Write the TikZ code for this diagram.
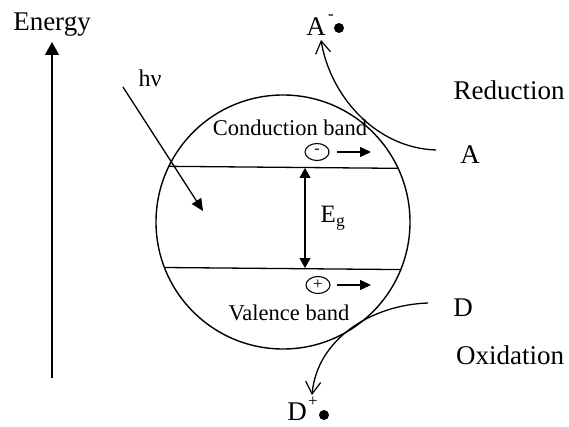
\documentclass[tikz,border=0pt]{standalone}
\usepackage{fontspec}
\setmainfont{Liberation Serif}
\usetikzlibrary{arrows.meta,shapes.geometric}
\begin{document}
\begin{tikzpicture}[x=1pt,y=-1pt, line width=1.3pt,
  big/.style={font=\fontsize{27}{30}\selectfont, inner sep=0pt},
  mid/.style={font=\fontsize{22.5}{26}\selectfont, inner sep=0pt},
  sup/.style={font=\fontsize{17}{17}\selectfont, inner sep=0pt},
  tri/.style={-{Triangle[length=11pt,width=10pt]}},
  tritwo/.style={{Triangle[length=10pt,width=11pt]}-{Triangle[length=10pt,width=11pt]}},
  barb/.style={-{Straight Barb[length=12pt,width=15pt,line width=1.2pt]}},
  carrier/.style={draw, ellipse, minimum width=24pt, minimum height=17pt, inner sep=0pt, line width=1.1pt},
  dotmark/.style={circle, fill, inner sep=0pt, minimum size=10pt}]
\useasboundingbox (0,0) rectangle (569,427);

% particle
\node[draw, circle, minimum size=254pt, inner sep=0pt, outer sep=0pt, line width=1.4pt] (p) at (283,222) {};
\draw (p.154.8) -- (p.25.2);
\draw (p.201.2) -- (p.338.8);

% band gap
\coordinate (eT) at (305,168);
\coordinate (eB) at (305,268);
\draw[tritwo] (eT) -- (eB);
\node[font=\fontsize{25}{28}\selectfont, inner sep=0pt] (eg) at (333,218) {E\textsubscript{g}};

% band labels
\node[mid] (cb) at (290,128) {Conduction band};
\node[mid] (vb) at (289,313) {Valence band};

% electron and hole
\node[carrier] (el) at (317,152) {\raisebox{2pt}{\fontsize{16}{16}\selectfont -}};
\coordinate (elA) at (337,152);
\coordinate (elB) at (371,152);
\draw[tri] (elA) -- (elB);
\node[carrier] (ho) at (318,285) {\fontsize{17}{17}\selectfont +};
\coordinate (hoA) at (337,285);
\coordinate (hoB) at (371,285);
\draw[tri] (hoA) -- (hoB);

% energy axis
\node[big] (en) at (52,25) {Energy};
\coordinate (enB) at (52,378);
\coordinate (enT) at (52,42);
\draw[-{Triangle[length=13pt,width=14pt]}] (enB) -- (enT);

% light
\node[font=\fontsize{24}{27}\selectfont, inner sep=0pt] (hv) at (150,78) {hν};
\coordinate (hvA) at (123,87);
\coordinate (hvB) at (203,211);
\draw[-{Triangle[length=12pt,width=11pt]}] (hvA) -- (hvB);

% reduction side
\node[big] (Am) at (316,27) {A};
\node[sup] (Ams) at (331,17) {-};
\node[dotmark] (Ad) at (339,28) {};
\node[big] (A) at (470,155) {A};
\node[big] (red) at (509,90) {Reduction};
\coordinate (Aend) at (436,150);
\coordinate (Atip) at (321,40);
\draw[barb] (Aend) .. controls (375,148) and (330,95) .. (Atip);

% oxidation side
\node[big] (D) at (463,308) {D};
\node[big] (ox) at (510,355) {Oxidation};
\node[big] (Dp) at (297,412) {D};
\node[sup] (Dps) at (313,402) {+};
\node[dotmark] (Dd) at (324,415) {};
\coordinate (Dend) at (428,303);
\coordinate (Dtip) at (312,395);
\draw[barb] (Dend) .. controls (370,305) and (317,340) .. (Dtip);
\end{tikzpicture}
\end{document}
